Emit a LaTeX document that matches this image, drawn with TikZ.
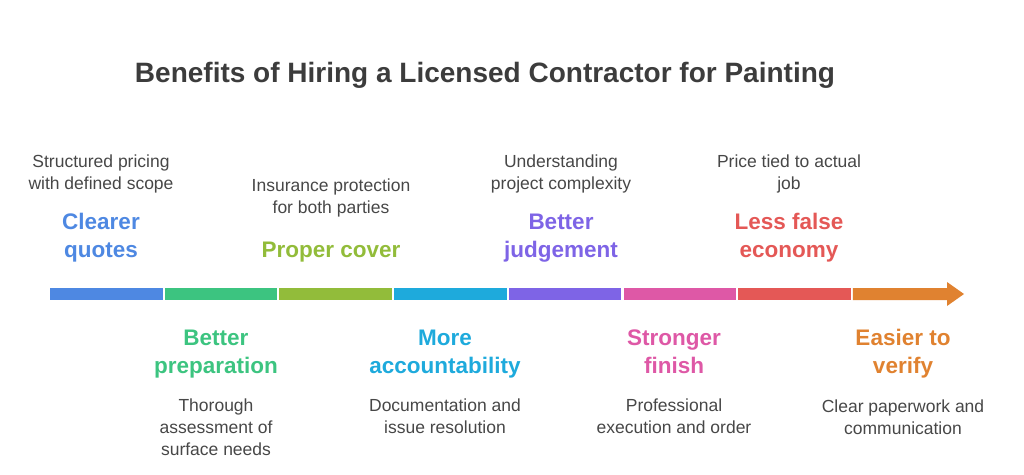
\documentclass[tikz,border=0pt]{standalone}
\usepackage{fontspec}
\setmainfont{Liberation Sans}
\usepackage{xcolor}
\usetikzlibrary{positioning}

\definecolor{titlegray}{HTML}{3C3C3C}
\definecolor{notegray}{HTML}{474747}
\definecolor{cquotes}{HTML}{4E88E2}
\definecolor{cprep}{HTML}{3CC480}
\definecolor{ccover}{HTML}{92BC3A}
\definecolor{caccount}{HTML}{1EAADC}
\definecolor{cjudge}{HTML}{7E64E6}
\definecolor{cfinish}{HTML}{DE58A6}
\definecolor{ceconomy}{HTML}{E45856}
\definecolor{cverify}{HTML}{E08230}

\begin{document}
\begin{tikzpicture}[x=1pt,y=-1pt,
	head/.style={font=\bfseries\fontsize{22.5}{28}\selectfont,align=center,inner sep=0pt,
		execute at begin node=\strut,execute at end node=\strut},
	note/.style={font=\fontsize{17.5}{22}\selectfont,align=center,inner sep=0pt,text=notegray,
		execute at begin node=\strut,execute at end node=\strut}]
	\useasboundingbox (0,0) rectangle (1024,474);

	\node[font=\bfseries\fontsize{28}{32}\selectfont,text=titlegray,inner sep=0pt]
		(title) at (485,75) {Benefits of Hiring a Licensed Contractor for Painting};

%	====================================================================
	\fill[cquotes]   (50,288)  rectangle (162.5,300);
	\fill[cprep]     (164.7,288) rectangle (277.2,300);
	\fill[ccover]    (279.4,288) rectangle (391.9,300);
	\fill[caccount]  (394.1,288) rectangle (506.6,300);
	\fill[cjudge]    (508.8,288) rectangle (621.3,300);
	\fill[cfinish]   (623.5,288) rectangle (736,300);
	\fill[ceconomy]  (738.2,288) rectangle (850.7,300);
	\fill[cverify]   (852.9,288) -- (947,288) -- (947,282) -- (964,294)
		-- (947,306) -- (947,300) -- (852.9,300) -- cycle;
%	====================================================================

	\node[head,text=cquotes,anchor=south] (quotes) at (101,266.5) {Clearer\\quotes};
	\node[note,above=17.5pt of quotes] (quotesnote) {Structured pricing\\with defined scope};

	\node[head,text=ccover,anchor=south] (cover) at (331,266.5) {Proper cover};
	\node[note,above=17.5pt of cover] (covernote) {Insurance protection\\for both parties};

	\node[head,text=cjudge,anchor=south] (judge) at (561,266.5) {Better\\judgement};
	\node[note,above=17.5pt of judge] (judgenote) {Understanding\\project complexity};

	\node[head,text=ceconomy,anchor=south] (economy) at (789,266.5) {Less false\\economy};
	\node[note,above=17.5pt of economy] (economynote) {Price tied to actual\\job};

	\node[head,text=cprep,anchor=north] (prep) at (216,329.4) {Better\\preparation};
	\node[note,below=17pt of prep] (prepnote) {Thorough\\assessment of\\surface needs};

	\node[head,text=caccount,anchor=north] (account) at (445,329.4) {More\\accountability};
	\node[note,below=17pt of account] (accountnote) {Documentation and\\issue resolution};

	\node[head,text=cfinish,anchor=north] (finish) at (674,329.4) {Stronger\\finish};
	\node[note,below=17pt of finish] (finishnote) {Professional\\execution and order};

	\node[head,text=cverify,anchor=north] (verify) at (903,329.4) {Easier to\\verify};
	\node[note,below=17pt of verify] (verifynote) {Clear paperwork and\\communication};
\end{tikzpicture}
\end{document}
